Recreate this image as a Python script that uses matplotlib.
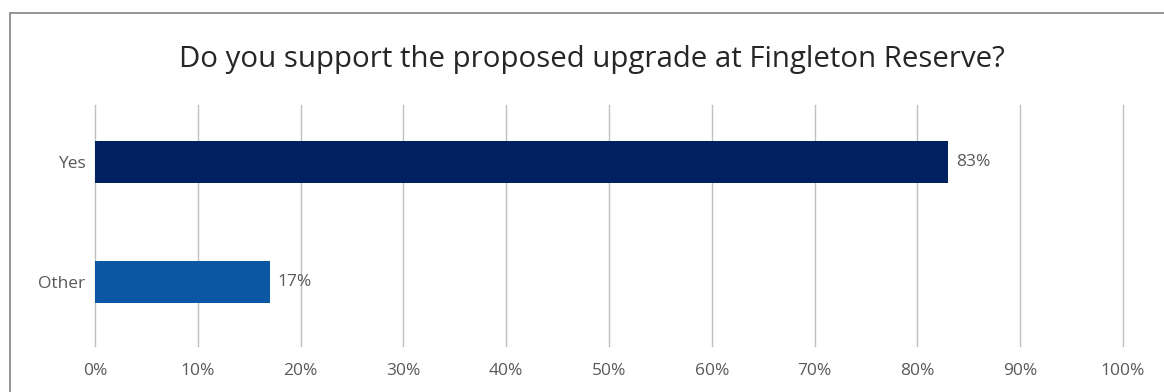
import matplotlib
matplotlib.use('Agg')
import matplotlib.pyplot as plt
from matplotlib.patches import Rectangle

categories = ['Other', 'Yes']
values = [17, 83]
bar_labels = ['17%', '83%']
bar_colors = ['#0B57A4', '#002060']
ticks = [0, 10, 20, 30, 40, 50, 60, 70, 80, 90, 100]
tick_labels = [str(t) + '%' for t in ticks]

plt.rcParams['font.family'] = ['Open Sans', 'DejaVu Sans']

fig = plt.figure(figsize=(11.64, 3.92), dpi=100, facecolor='white')

# chart frame, runs past the right and bottom edges
fig.patches.append(Rectangle((10 / 1164, -0.1), 1.2, 1 - 13 / 392 + 0.1,
                             transform=fig.transFigure, fill=False,
                             edgecolor='#8c8c8c', linewidth=1.3))

ax = fig.add_axes([95 / 1164, 1 - 346 / 392, (1123 - 95) / 1164, (346 - 105) / 392])
ax.barh(range(len(categories)), values, height=0.35, color=bar_colors, zorder=2)

for i, v in enumerate(values):
    ax.text(v + 0.75, i, bar_labels[i], va='center', ha='left',
            fontsize=12.5, color='#595959')

ax.set_xlim(0, 100)
ax.set_ylim(-0.53, 1.475)
ax.set_xticks(ticks)
ax.set_xticklabels(tick_labels)
ax.set_yticks(range(len(categories)))
ax.set_yticklabels(categories)
ax.tick_params(axis='both', length=0, labelsize=12.5, labelcolor='#595959')
ax.tick_params(axis='x', pad=12)
ax.tick_params(axis='y', pad=7)
ax.grid(axis='x', color='#bfbfbf', linewidth=1, zorder=0)
for gl in ax.get_xgridlines():
    gl.set_clip_on(False)
for s in ax.spines.values():
    s.set_visible(False)
ax.set_facecolor('none')

fig.text(592 / 1164, 1 - 59 / 392, 'Do you support the proposed upgrade at Fingleton Reserve?',
         ha='center', va='center', fontsize=21.2, color='#262626')

plt.savefig('out.png', dpi=100, facecolor='white')
